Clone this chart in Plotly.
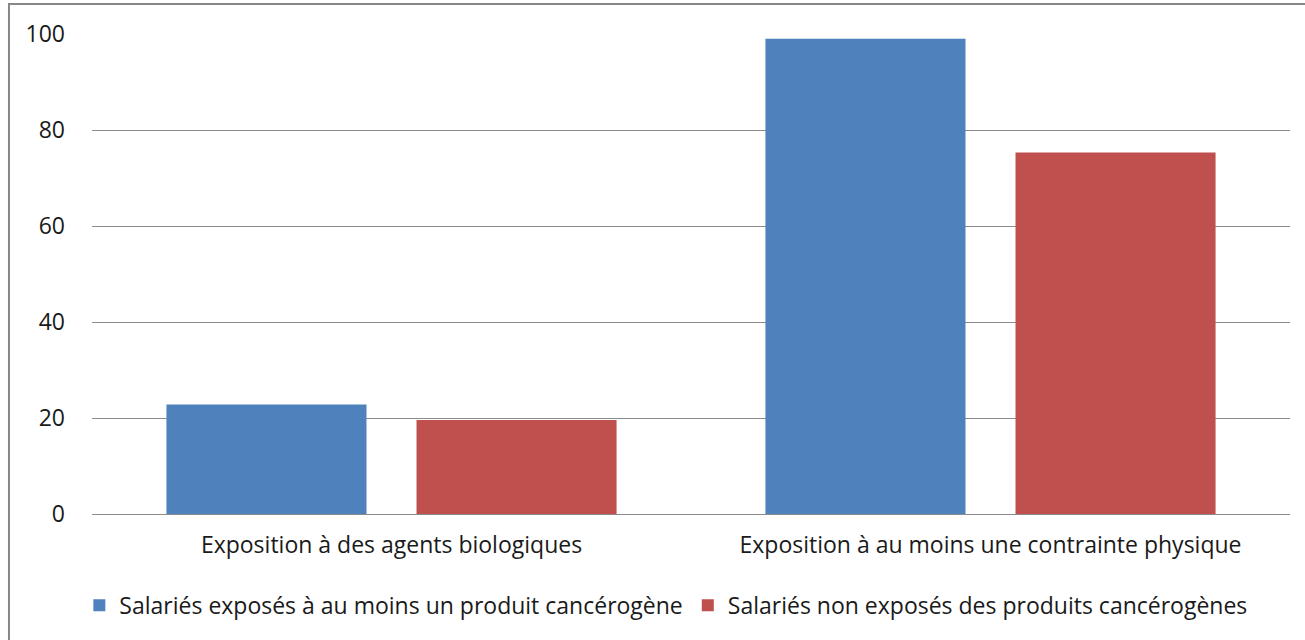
import plotly.graph_objects as go

categories = ["Exposition à des agents biologiques", "Exposition à au moins une contrainte physique"]
series_names = ["Salariés exposés à au moins un produit cancérogène",
                "Salariés non exposés des produits cancérogènes"]
exposed = [22.8, 99.0]
not_exposed = [19.6, 75.3]
y_ticks = [0, 20, 40, 60, 80, 100]

fig = go.Figure()
fig.add_trace(go.Bar(x=categories, y=exposed, name=series_names[0],
                     marker=dict(color="#4F81BD", line=dict(width=0))))
fig.add_trace(go.Bar(x=categories, y=not_exposed, name=series_names[1],
                     marker=dict(color="#C0504D", line=dict(width=0))))

fig.update_layout(
    width=1305, height=640,
    margin=dict(l=92, r=15, t=34, b=126),
    barmode="group",
    bargap=0.165,
    bargroupgap=0.2,
    plot_bgcolor="white",
    paper_bgcolor="white",
    font=dict(family="Open Sans", size=23, color="#1a1a1a"),
    xaxis=dict(showgrid=False, showline=False, ticks="", ticklabelstandoff=15),
    yaxis=dict(range=[0, 100], tickvals=y_ticks, showgrid=True, gridcolor="#8c8c8c",
               gridwidth=1, zeroline=True, zerolinecolor="#8c8c8c", zerolinewidth=1,
               ticks="", ticklabelstandoff=26),
    legend=dict(orientation="h", x=0.479, xanchor="center", y=-0.19, yanchor="middle",
                font=dict(size=23), itemwidth=30, traceorder="normal"),
    shapes=[dict(type="rect", xref="paper", yref="paper",
                 x0=-0.0693, x1=1.05, y0=-0.4, y1=1.0625,
                 line=dict(color="#878787", width=2), layer="below")],
)

# drop the page's default body margin so the figure sits at the window corner
fig.write_html("out.html", config={"displayModeBar": False},
               post_script="document.body.style.margin='0';")
